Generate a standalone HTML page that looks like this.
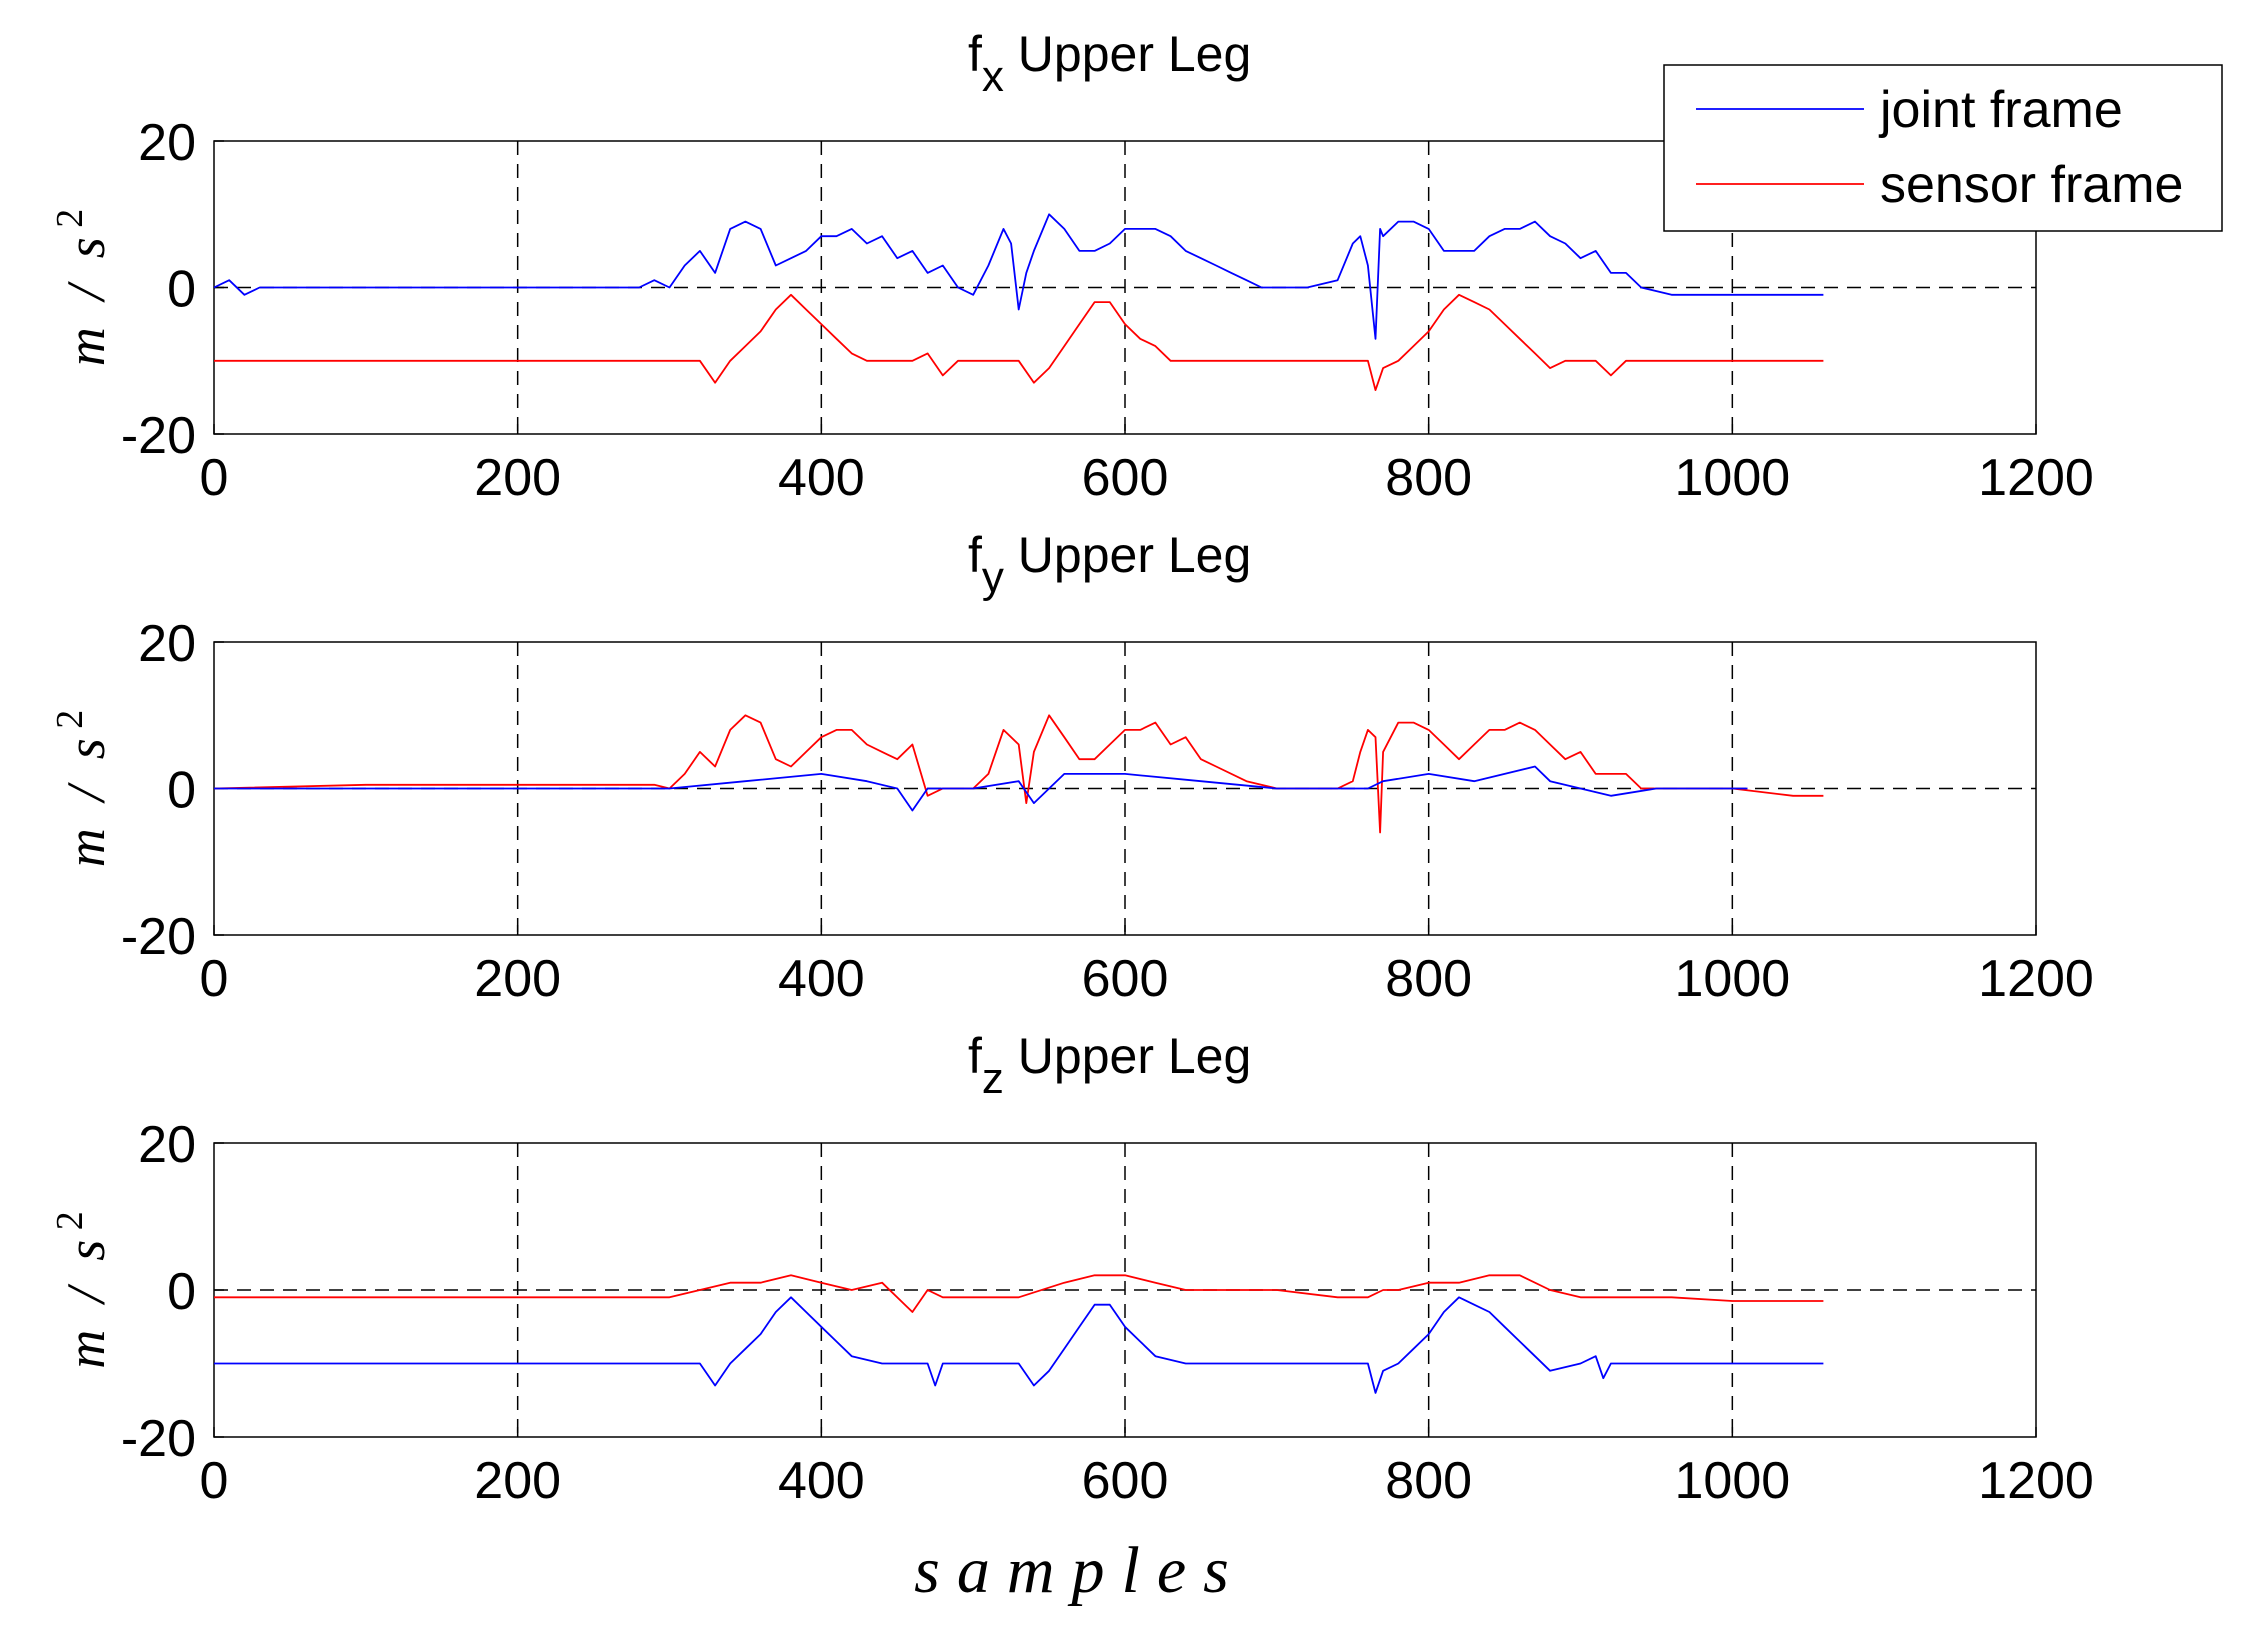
<!DOCTYPE html>
<html><head><meta charset="utf-8"><style>
html,body{margin:0;padding:0;background:#fff}
svg{display:block;font-family:"Liberation Sans",Arial,sans-serif}
</style></head><body>
<svg id="fig" width="2259" height="1626" viewBox="0 0 2259 1626">
<rect width="2259" height="1626" fill="#fff"/>
</svg>
<script>
const xTicks=[0,200,400,600,800,1000,1200];
const yTicks=[-20,0,20];
const titles=[["x","Upper Leg"],["y","Upper Leg"],["z","Upper Leg"]];
// [sample, value] pairs
const fxJointX=[0,10,20,30,50,80,120,200,280,290,300,310,320,330,340,350,360,370,380,390,400,410,420,430,440,450,460,470,480,490,500,510,520,525,530,535,540,550,560,570,580,590,600,610,620,630,640,650,660,670,680,690,700,720,740,750,755,760,765,768,770,780,790,800,810,820,830,840,850,860,870,880,890,900,910,920,930,940,960,1000,1040,1060];
const fxJointV=[0,1,-1,0,0,0,0,0,0,1,0,3,5,2,8,9,8,3,4,5,7,7,8,6,7,4,5,2,3,0,-1,3,8,6,-3,2,5,10,8,5,5,6,8,8,8,7,5,4,3,2,1,0,0,0,1,6,7,3,-7,8,7,9,9,8,5,5,5,7,8,8,9,7,6,4,5,2,2,0,-1,-1,-1,-1];
const fxSensorX=[0,100,200,300,320,330,340,350,360,370,380,390,400,410,420,430,440,460,470,480,490,500,520,530,540,550,560,570,580,590,600,610,620,630,640,660,700,740,760,765,770,780,790,800,810,820,830,840,850,860,870,880,890,900,910,920,930,940,1000,1060];
const fxSensorV=[-10,-10,-10,-10,-10,-13,-10,-8,-6,-3,-1,-3,-5,-7,-9,-10,-10,-10,-9,-12,-10,-10,-10,-10,-13,-11,-8,-5,-2,-2,-5,-7,-8,-10,-10,-10,-10,-10,-10,-14,-11,-10,-8,-6,-3,-1,-2,-3,-5,-7,-9,-11,-10,-10,-10,-12,-10,-10,-10,-10];
const fySensorX=[0,100,200,290,300,310,320,330,340,350,360,370,380,390,400,410,420,430,440,450,460,470,480,500,510,520,530,535,540,550,560,570,580,590,600,610,620,630,640,650,660,680,700,740,750,755,760,765,768,770,780,790,800,810,820,830,840,850,860,870,880,890,900,910,920,930,940,980,1000,1040,1060];
const fySensorV=[0,0.5,0.5,0.5,0,2,5,3,8,10,9,4,3,5,7,8,8,6,5,4,6,-1,0,0,2,8,6,-2,5,10,7,4,4,6,8,8,9,6,7,4,3,1,0,0,1,5,8,7,-6,5,9,9,8,6,4,6,8,8,9,8,6,4,5,2,2,2,0,0,0,-1,-1];
const fyJointX=[0,100,200,300,350,400,430,450,460,470,500,530,540,560,600,650,700,760,770,800,830,870,880,900,920,950,1010];
const fyJointV=[0,0,0,0,1,2,1,0,-3,0,0,1,-2,2,2,1,0,0,1,2,1,3,1,0,-1,0,0];
const fzSensorX=[0,100,200,300,320,340,360,380,400,420,440,460,470,480,500,530,560,580,600,620,640,660,700,740,760,770,780,800,820,840,860,880,900,920,960,1000,1060];
const fzSensorV=[-1,-1,-1,-1,0,1,1,2,1,0,1,-3,0,-1,-1,-1,1,2,2,1,0,0,0,-1,-1,0,0,1,1,2,2,0,-1,-1,-1,-1.5,-1.5];
const fzJointX=[0,100,200,300,320,330,340,350,360,370,380,390,400,410,420,440,470,475,480,500,530,540,550,560,570,580,590,600,610,620,640,700,760,765,770,780,790,800,810,820,830,840,850,860,870,880,900,910,915,920,940,1000,1060];
const fzJointV=[-10,-10,-10,-10,-10,-13,-10,-8,-6,-3,-1,-3,-5,-7,-9,-10,-10,-13,-10,-10,-10,-13,-11,-8,-5,-2,-2,-5,-7,-9,-10,-10,-10,-14,-11,-10,-8,-6,-3,-1,-2,-3,-5,-7,-9,-11,-10,-9,-12,-10,-10,-10,-10];
const panels=[
 {top:141,bottom:434,series:[[fxJointX,fxJointV,"#0000ff","joint"],[fxSensorX,fxSensorV,"#ff0000","sensor"]]},
 {top:642,bottom:935,series:[[fySensorX,fySensorV,"#ff0000","sensor"],[fyJointX,fyJointV,"#0000ff","joint"]]},
 {top:1143,bottom:1437,series:[[fzSensorX,fzSensorV,"#ff0000","sensor"],[fzJointX,fzJointV,"#0000ff","joint"]]}
];
const L=214,R=2036,NS="http://www.w3.org/2000/svg";
const svg=document.getElementById("fig");
function mk(t,a,p){const e=document.createElementNS(NS,t);for(const k in a)e.setAttribute(k,a[k]);(p||svg).appendChild(e);return e;}
const xs=v=>L+(v-0)/1200*(R-L);
panels.forEach((p,i)=>{
 const ys=v=>p.bottom-(v+20)/40*(p.bottom-p.top);
 const g=mk("g",{});
 
 
 const ax=mk("rect",{x:L,y:p.top,width:R-L,height:p.bottom-p.top,fill:"none",stroke:"#000","stroke-width":1.5},g);
 
 
 xTicks.forEach(t=>{
  if(t>0&&t<1200){const gl=mk("line",{x1:xs(t),x2:xs(t),y1:p.top,y2:p.bottom,stroke:"#000","stroke-width":1.5,"stroke-dasharray":"14,9"},g);
   
   }
  mk("line",{x1:xs(t),x2:xs(t),y1:p.bottom,y2:p.bottom-10,stroke:"#000","stroke-width":1.5},g);
  const tl=mk("text",{x:xs(t),y:p.bottom+61,"font-size":52,"text-anchor":"middle"},g);tl.textContent=t;
  
  
 });
 yTicks.forEach(t=>{
  if(t===0){const gl=mk("line",{x1:L,x2:R,y1:ys(t),y2:ys(t),stroke:"#000","stroke-width":1.5,"stroke-dasharray":"14,9"},g);
   
   }
  mk("line",{x1:L,x2:L+10,y1:ys(t),y2:ys(t),stroke:"#000","stroke-width":1.5},g);
  const tl=mk("text",{x:L-18,y:ys(t)+19,"font-size":52,"text-anchor":"end"},g);tl.textContent=t;
  
  
 });
 p.series.forEach(s=>{
  const pts=s[0].map((x,k)=>xs(x).toFixed(1)+","+ys(s[1][k]).toFixed(1)).join(" ");
  const pl=mk("polyline",{points:pts,fill:"none",stroke:s[2],"stroke-width":1.8,"stroke-linejoin":"round"},g);
  
  
 });
 const tt=mk("text",{x:968,y:p.top-70,"font-size":50},g);
 tt.innerHTML='f<tspan dy="20" font-size="44">'+titles[i][0]+'</tspan><tspan dy="-20"> '+titles[i][1]+'</tspan>';
 
 
 const cy=(p.top+p.bottom)/2;
 const yl=mk("text",{x:0,y:0,"font-size":54,"font-family":"Liberation Serif,serif","font-style":"italic",transform:"translate(104,"+cy+") rotate(-90)","text-anchor":"middle"},g);
 yl.innerHTML='m &#160;/ &#160;s<tspan dy="-22" font-size="38" font-style="normal"> 2</tspan>';
 
 
});
const xl=mk("text",{x:1080,y:1592,"font-size":66,"font-family":"Liberation Serif,serif","font-style":"italic","text-anchor":"middle","letter-spacing":"17"});
xl.textContent="samples";


const lg=mk("g",{});


mk("rect",{x:1664,y:65,width:558,height:166,fill:"#fff",stroke:"#000","stroke-width":1.5},lg);
[["joint frame","#0000ff",109],["sensor frame","#ff0000",184]].forEach(e=>{
 const en=mk("g",{},lg);
 
 
 mk("line",{x1:1696,x2:1864,y1:e[2],y2:e[2],stroke:e[1],"stroke-width":1.8},en);
 const t=mk("text",{x:1880,y:e[2]+18,"font-size":52},en);t.textContent=e[0];
});
</script>
</body></html>
